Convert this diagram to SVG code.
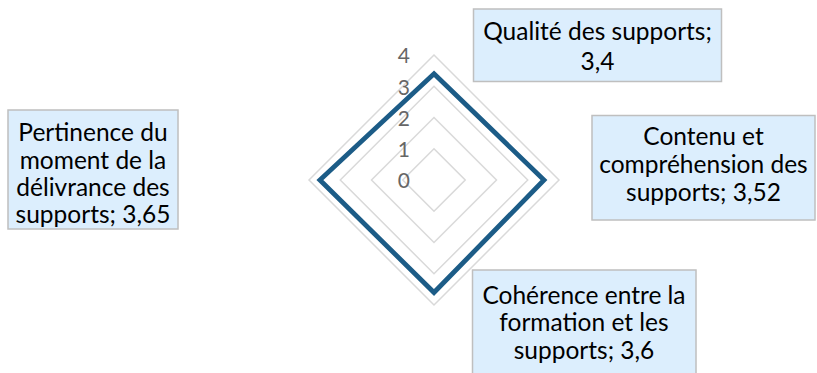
<svg xmlns="http://www.w3.org/2000/svg" width="817" height="373" viewBox="0 0 817 373">
<style>
.grid{fill:none;stroke:#D9D9D9;stroke-width:1.5}
.data{fill:none;stroke:#1C5C87;stroke-width:4.8;stroke-linejoin:miter}
.axis{font-family:Lato,"Liberation Sans",sans-serif;font-size:21px;fill:#666666;text-anchor:end}
.box{fill:#DCEEFD;stroke:#BFBFBF;stroke-width:1.5}
.lbl{font-family:Lato,"Liberation Sans",sans-serif;font-size:24.5px;fill:#000;text-anchor:middle}
</style>
<rect width="817" height="373" fill="#FFFFFF"/>
<g id="grid">
<polygon class="grid" points="434,148.75 465.25,180 434,211.25 402.75,180"/>
<polygon class="grid" points="434,117.5 496.5,180 434,242.5 371.5,180"/>
<polygon class="grid" points="434,86.25 527.75,180 434,273.75 340.25,180"/>
<polygon class="grid" points="434,55 559,180 434,305 309,180"/>
</g>
<g id="axis-labels">
<text class="axis" x="410" y="188">0</text>
<text class="axis" x="410" y="157">1</text>
<text class="axis" x="410" y="126">2</text>
<text class="axis" x="410" y="95">3</text>
<text class="axis" x="410" y="63">4</text>
</g>
<g id="connectors">
<polygon class="data" points="434,73.75 544,180 434,292.5 319.9,180"/>
</g>
<g id="label-qualite">
<rect class="box" x="473.5" y="9" width="248" height="72.5"/>
<text class="lbl" x="597.5" y="40">Qualité des supports;</text>
<text class="lbl" x="597.5" y="70">3,4</text>
</g>
<g id="label-contenu">
<rect class="box" x="592" y="115.5" width="223" height="104.5"/>
<text class="lbl" x="703.5" y="145">Contenu et</text>
<text class="lbl" x="703.5" y="173">compréhension des</text>
<text class="lbl" x="703.5" y="201">supports; 3,52</text>
</g>
<g id="label-pertinence">
<rect class="box" x="8" y="110" width="170" height="119"/>
<text class="lbl" x="93" y="141">Pertinence du</text>
<text class="lbl" x="93" y="169">moment de la</text>
<text class="lbl" x="93" y="196">délivrance des</text>
<text class="lbl" x="93" y="223">supports; 3,65</text>
</g>
<g id="label-coherence">
<rect class="box" x="472.5" y="270" width="223.5" height="110"/>
<text class="lbl" x="584" y="304">Cohérence entre la</text>
<text class="lbl" x="584" y="331">formation et les</text>
<text class="lbl" x="584" y="359">supports; 3,6</text>
</g>
</svg>
